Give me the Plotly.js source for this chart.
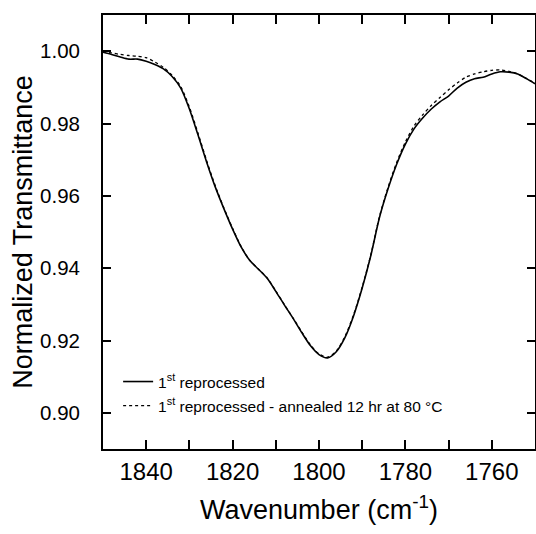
<!DOCTYPE html>
<html>
<head>
<meta charset="utf-8">
<script src="https://cdn.plot.ly/plotly-3.0.1.min.js"></script>
<style>html,body{margin:0;padding:0;background:#fff;}#chart{width:536px;height:534px;}</style>
</head>
<body>
<div id="chart"></div>
<script>
// Wavenumber (cm-1)
const wavenumber = [1850,1848,1846,1844,1842,1840,1838,1836,1834,1832,1830,1828,1826,1824,1822,1820,1818,1816,1814,1812,1810,1808,1806,1804,1802,1800,1798,1796,1794,1792,1790,1788,1786,1784,1782,1780,1778,1776,1774,1772,1770,1768,1766,1764,1762,1760,1758,1756,1754,1752,1750];
// 1st reprocessed (solid)
const reprocessed = [0.9997,0.9991,0.9984,0.9978,0.9978,0.9972,0.9963,0.9951,0.9930,0.9898,0.9840,0.9768,0.9693,0.9624,0.9564,0.9508,0.9458,0.9421,0.9397,0.9372,0.9336,0.9298,0.9261,0.9222,0.9186,0.9161,0.9152,0.9169,0.9208,0.9268,0.9345,0.9435,0.9540,0.9620,0.9688,0.9743,0.9785,0.9815,0.9840,0.9860,0.9876,0.9898,0.9914,0.9924,0.9928,0.9937,0.9943,0.9942,0.9937,0.9924,0.9910];
// 1st reprocessed - annealed (dotted)
const annealed = [0.9999,0.9995,0.9991,0.9988,0.9986,0.9982,0.9970,0.9955,0.9933,0.9902,0.9845,0.9773,0.9697,0.9627,0.9566,0.9510,0.9459,0.9421,0.9397,0.9373,0.9337,0.9299,0.9262,0.9224,0.9188,0.9163,0.9154,0.9171,0.9211,0.9271,0.9348,0.9437,0.9543,0.9624,0.9693,0.9749,0.9793,0.9824,0.9850,0.9872,0.9893,0.9912,0.9928,0.9937,0.9943,0.9947,0.9948,0.9944,0.9937,0.9925,0.9911];

const seriesNames = ['1<sup>st</sup> reprocessed', '1<sup>st</sup> reprocessed - annealed 12 hr at 80 \u00B0C'];
const xTickVals = [1840,1820,1800,1780,1760];
const xTickText = ['1840','1820','1800','1780','1760'];
const yTickVals = [0.90,0.92,0.94,0.96,0.98,1.00];
const yTickText = ['0.90','0.92','0.94','0.96','0.98','1.00'];

const font = 'Liberation Sans, Arial, sans-serif';
// pad the y labels away from the axis (the reference leaves a gap)
const yTickTextPadded = yTickText.map(t => t + '\u00A0\u00A0\u00A0');

const traces = [
  {x: wavenumber, y: reprocessed, name: seriesNames[0], mode: 'lines', legendgroup: 'a',
   line: {color: '#000', width: 1.6, shape: 'spline', smoothing: 0.8}},
  {x: wavenumber, y: annealed, name: seriesNames[1], mode: 'lines', legendgroup: 'b',
   line: {color: '#000', width: 1.3, dash: 'dot', shape: 'spline', smoothing: 0.8}}
];

const layout = {
  width: 536, height: 534,
  margin: {l: 103, r: 1, t: 15, b: 85},
  font: {family: font, color: '#000'},
  showlegend: true,
  legend: {x: 0.035, y: 0.06, xanchor: 'left', yanchor: 'bottom', bgcolor: 'rgba(0,0,0,0)',
           font: {size: 15.5, family: font, color: '#000'}, tracegroupgap: 1, traceorder: 'grouped'},
  xaxis: {
    range: [1850, 1750],
    tickmode: 'array', tickvals: xTickVals, ticktext: xTickText,
    ticks: 'inside', ticklen: 9, tickwidth: 1.5, tickcolor: 'black',
    minor: {dtick: 10, tick0: 1850, ticks: 'inside', ticklen: 9, tickwidth: 1.5, tickcolor: 'black'},
    showline: true, linecolor: 'black', linewidth: 1.6, mirror: 'ticks',
    showgrid: false, zeroline: false,
    tickfont: {size: 24, family: font, color: '#000'},
    title: {text: 'Wavenumber (cm<sup>-1</sup>)', font: {size: 27, family: font, color: '#000'}, standoff: 17}
  },
  yaxis: {
    range: [0.89, 1.01],
    tickmode: 'array', tickvals: yTickVals, ticktext: yTickTextPadded,
    ticks: 'inside', ticklen: 8, tickwidth: 1.5, tickcolor: 'black',
    showline: true, linecolor: 'black', linewidth: 1.6, mirror: 'ticks',
    showgrid: false, zeroline: false,
    tickfont: {size: 20.5, family: font, color: '#000'},
    title: {text: 'Normalized Transmittance', font: {size: 27, family: font, color: '#000'}, standoff: 0}
  }
};

Plotly.newPlot('chart', traces, layout, {displayModeBar: false});
</script>
</body>
</html>
